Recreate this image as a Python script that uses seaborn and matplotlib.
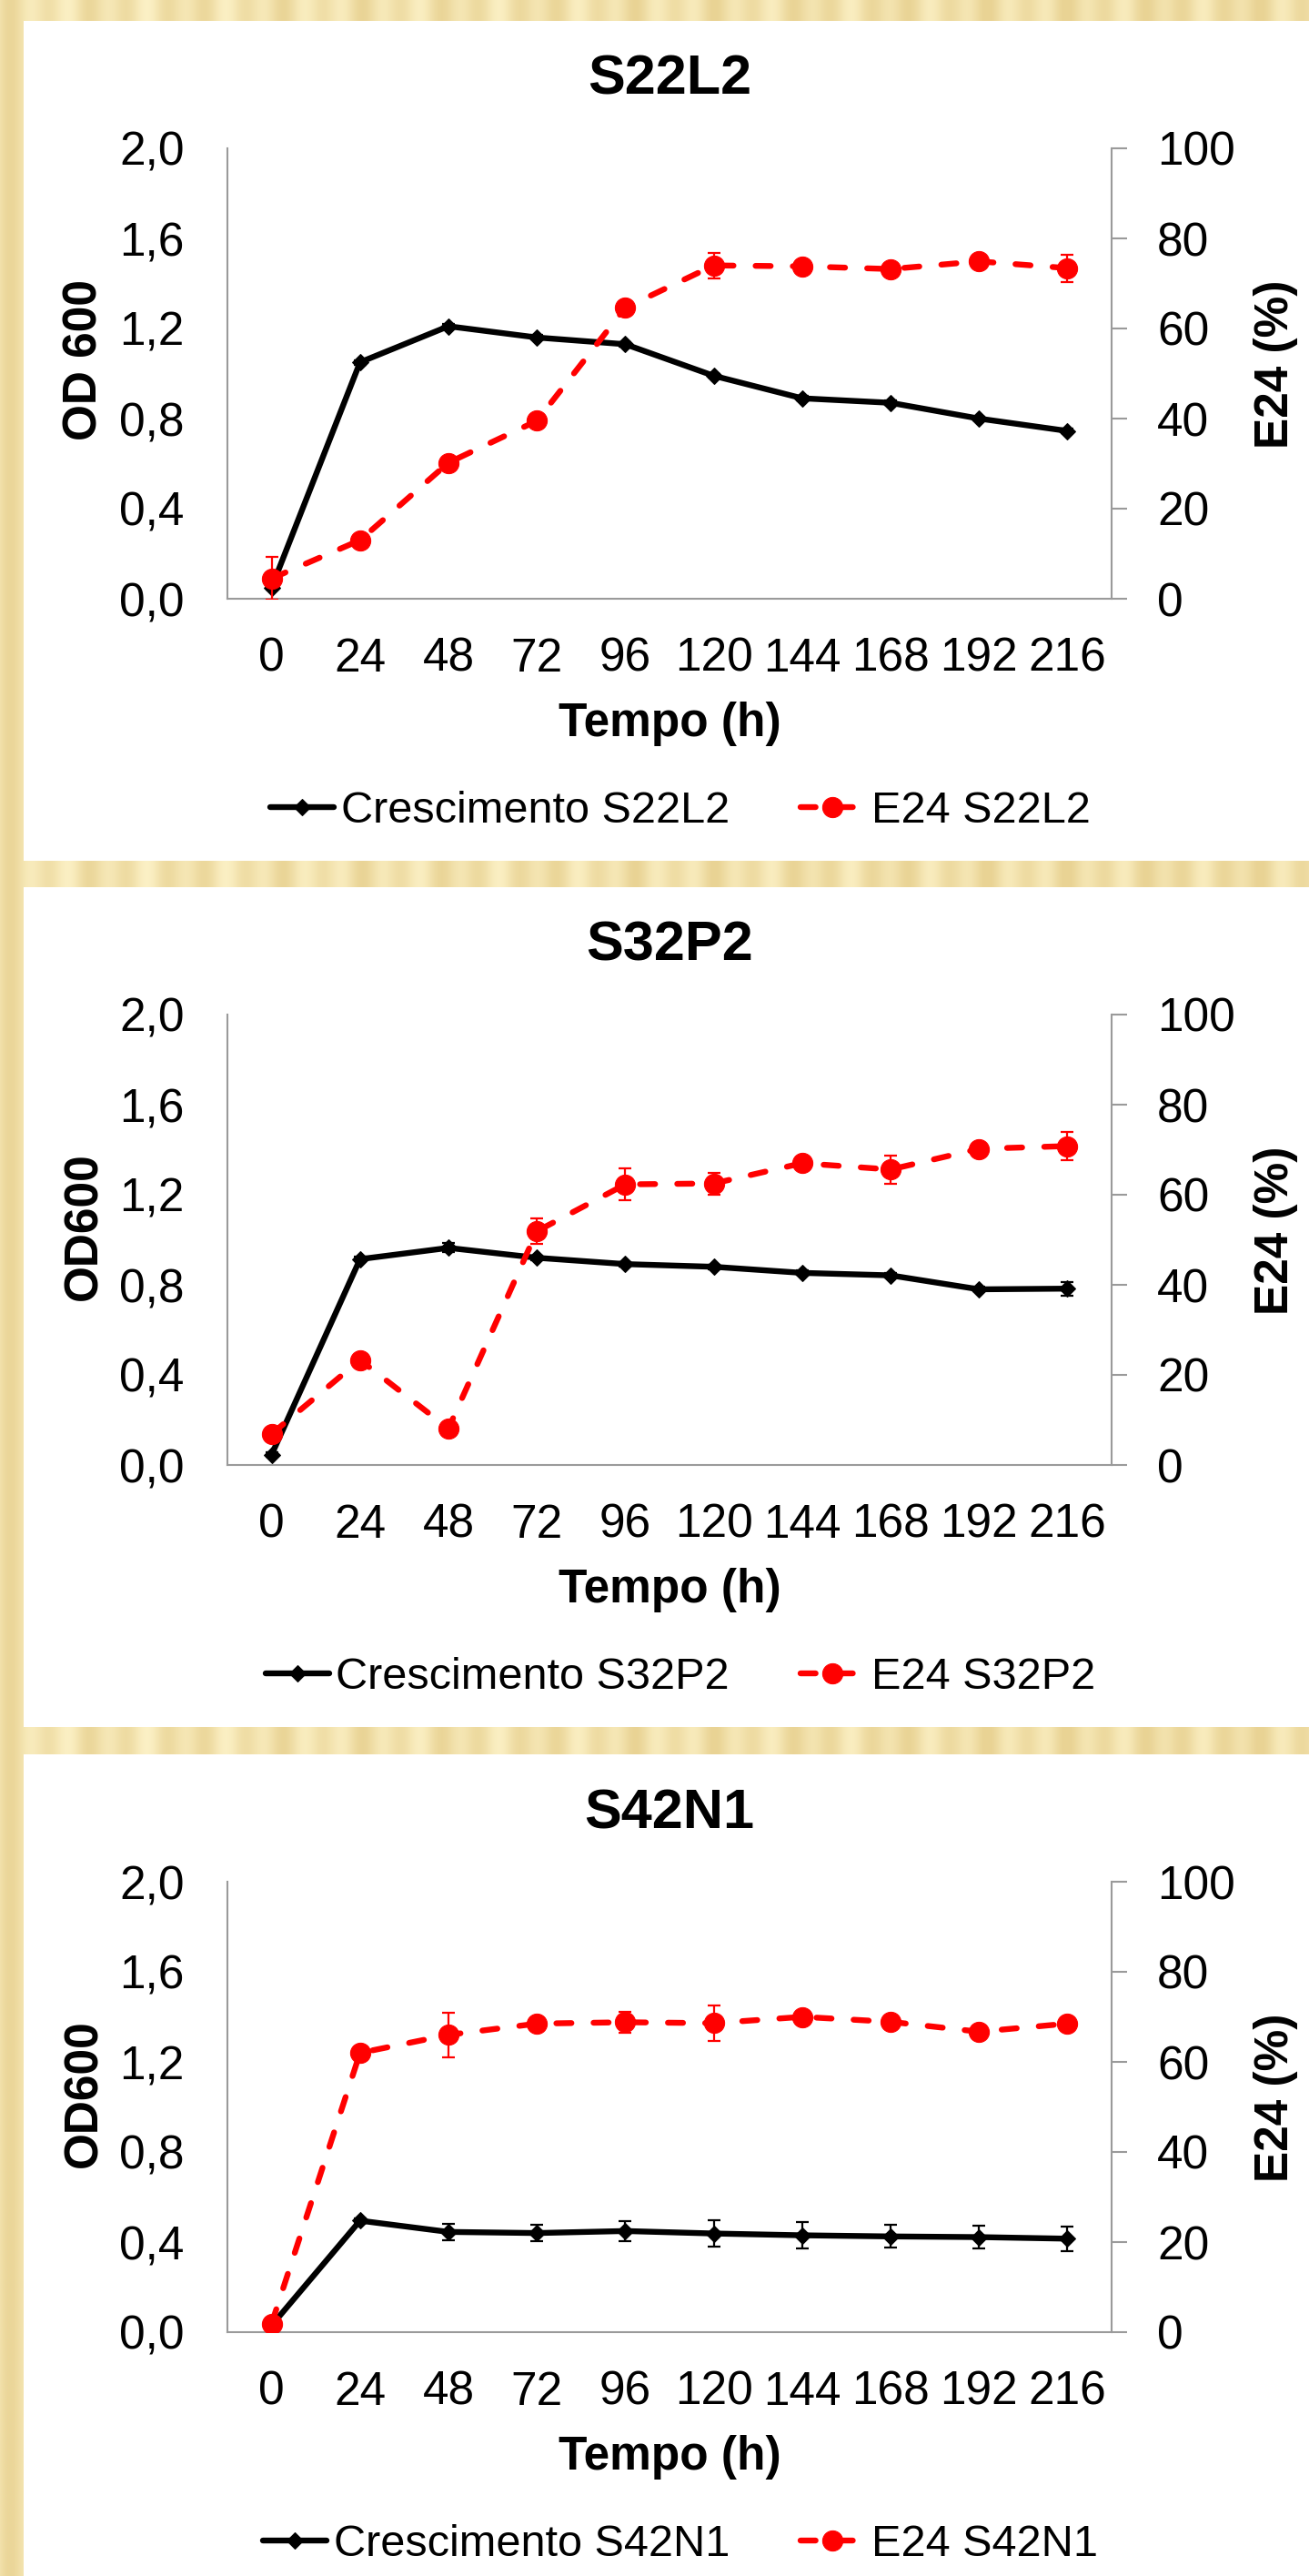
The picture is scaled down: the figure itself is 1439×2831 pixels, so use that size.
import numpy as np
import matplotlib
matplotlib.use('Agg')
import matplotlib.pyplot as plt
import seaborn as sns
from matplotlib.patches import Rectangle

# Data
TIMES = ['0', '24', '48', '72', '96', '120', '144', '168', '192', '216']
OD_TICKS = [0.0, 0.4, 0.8, 1.2, 1.6, 2.0]
OD_TICK_LABELS = ['0,0', '0,4', '0,8', '1,2', '1,6', '2,0']
E24_TICKS = [0, 20, 40, 60, 80, 100]

STRAINS = ['S22L2', 'S32P2', 'S42N1']
OD_LABELS = ['OD 600', 'OD600', 'OD600']

OD_S22L2 = [0.05, 1.05, 1.21, 1.16, 1.13, 0.99, 0.89, 0.87, 0.80, 0.745]
OD_S22L2_ERR = [0.01, 0.01, 0.01, 0.01, 0.01, 0.01, 0.01, 0.01, 0.01, 0.01]
E24_S22L2 = [4.5, 13.0, 30.2, 39.5, 64.6, 74.0, 73.8, 73.2, 74.9, 73.4]
E24_S22L2_ERR = [4.7, 1.0, 1.0, 1.0, 1.0, 2.8, 1.0, 1.0, 1.0, 3.0]

OD_S32P2 = [0.046, 0.914, 0.964, 0.92, 0.892, 0.88, 0.853, 0.842, 0.78, 0.783]
OD_S32P2_ERR = [0.01, 0.01, 0.02, 0.01, 0.01, 0.01, 0.01, 0.01, 0.01, 0.03]
E24_S32P2 = [6.9, 23.3, 8.1, 51.9, 62.3, 62.5, 67.0, 65.6, 70.2, 70.8]
E24_S32P2_ERR = [1.0, 1.0, 1.0, 2.8, 3.5, 2.4, 1.0, 3.1, 1.0, 3.2]

OD_S42N1 = [0.03, 0.495, 0.445, 0.44, 0.449, 0.438, 0.43, 0.425, 0.422, 0.415]
OD_S42N1_ERR = [0.01, 0.01, 0.035, 0.035, 0.045, 0.06, 0.06, 0.05, 0.05, 0.055]
E24_S42N1 = [1.9, 62.0, 66.0, 68.5, 68.8, 68.6, 70.0, 68.9, 66.7, 68.5]
E24_S42N1_ERR = [1.0, 1.0, 4.9, 1.0, 2.3, 3.9, 1.0, 1.0, 1.0, 1.0]

OD_SERIES = [OD_S22L2, OD_S32P2, OD_S42N1]
OD_ERRS = [OD_S22L2_ERR, OD_S32P2_ERR, OD_S42N1_ERR]
E24_SERIES = [E24_S22L2, E24_S32P2, E24_S42N1]
E24_ERRS = [E24_S22L2_ERR, E24_S32P2_ERR, E24_S42N1_ERR]

# Style
sns.set_style('white')
plt.rcParams['font.family'] = ['Liberation Sans', 'DejaVu Sans']
plt.rcParams['text.color'] = 'black'
plt.rcParams['axes.labelcolor'] = 'black'
plt.rcParams['xtick.color'] = 'black'
plt.rcParams['ytick.color'] = 'black'

W, H = 1439, 2831
GRAY = '#9a9a9a'
FS = 37
LW = 4.6

fig = plt.figure(figsize=(W / 100, H / 100), dpi=100)

# Gold striped background with white panels
bg = fig.add_axes([0, 0, 1, 1])
bg.set_xlim(0, W)
bg.set_ylim(H, 0)
bg.axis('off')
xs = np.arange(W)
t = 0.45 + 0.28 * np.sin(2 * np.pi * xs / 43) + 0.17 * np.sin(2 * np.pi * xs / 97 + 0.7) + 0.2 * xs / W
t = np.clip(t, 0, 1)
light = np.array([252, 241, 198]) / 255
dark = np.array([233, 211, 148]) / 255
row = light[None, :] * (1 - t[:, None]) + dark[None, :] * t[:, None]
bg.imshow(row[None, :, :], extent=(0, W, H, 0), aspect='auto', zorder=0)
for top, bottom in [(23, 946), (975, 1898), (1928, H)]:
    bg.add_patch(Rectangle((26, top), W - 26, bottom - top, facecolor='white', edgecolor='none', zorder=1))

OFFSETS = [0, 952, 1905]
xpos = np.arange(len(TIMES))

for i, name in enumerate(STRAINS):
    o = OFFSETS[i]
    ax = fig.add_axes([250 / W, 1 - (658 + o) / H, 972 / W, 495 / H])
    ax.set_facecolor('none')

    sns.lineplot(x=xpos, y=OD_SERIES[i], ax=ax, color='black', marker='D', markersize=9,
                 markeredgecolor='black', linewidth=LW, legend=False, zorder=3)
    line_od = ax.lines[-1]
    ax.errorbar(xpos, OD_SERIES[i], yerr=OD_ERRS[i], fmt='none', ecolor='black',
                elinewidth=1.6, capsize=4.7, capthick=1.6, zorder=2)

    ax.set_xlim(-0.5, len(TIMES) - 0.5)
    ax.set_ylim(0, 2)
    ax.set_yticks(OD_TICKS)
    ax.set_yticklabels(OD_TICK_LABELS)
    ax.set_xticks(xpos)
    ax.set_xticklabels(TIMES)
    ax.tick_params(axis='both', length=0, labelsize=FS)
    ax.tick_params(axis='y', pad=34)
    ax.tick_params(axis='x', pad=30)
    for s in ['top', 'right']:
        ax.spines[s].set_visible(False)
    for s in ['left', 'bottom']:
        ax.spines[s].set_color(GRAY)
        ax.spines[s].set_linewidth(1.5)

    ax.set_ylabel(OD_LABELS[i], fontsize=FS, fontweight='bold')
    ax.yaxis.set_label_coords(-0.162, 0.53)
    ax.yaxis.label.set_va('center')
    ax.set_xlabel('Tempo (h)', fontsize=FS, fontweight='bold')
    ax.xaxis.set_label_coords(0.5, -0.305)
    ax.xaxis.label.set_va('baseline')
    ax.text(0.5, (658 - 104) / 495, name, transform=ax.transAxes, ha='center',
            va='baseline', fontsize=44, fontweight='bold')

    ax2 = ax.twinx()
    sns.lineplot(x=xpos, y=E24_SERIES[i], ax=ax2, color='red', marker='o', markersize=16,
                 markeredgecolor='red', linewidth=LW, legend=False, zorder=3)
    line_e = ax2.lines[-1]
    line_e.set_linestyle((0, (2.6, 3.8)))
    line_e.set_dash_capstyle('round')
    ax2.errorbar(xpos, E24_SERIES[i], yerr=E24_ERRS[i], fmt='none', ecolor='red',
                 elinewidth=1.6, capsize=4.7, capthick=1.6, zorder=2)
    ax2.set_ylim(0, 100)
    ax2.set_yticks(E24_TICKS)
    ax2.tick_params(axis='y', length=12, width=1.5, color=GRAY, labelsize=FS, pad=24, direction='out')
    for s in ['top', 'left', 'bottom']:
        ax2.spines[s].set_visible(False)
    ax2.spines['right'].set_color(GRAY)
    ax2.spines['right'].set_linewidth(1.5)
    ax2.set_ylabel('E24 (%)', fontsize=FS, fontweight='bold')
    ax2.yaxis.set_label_coords(1.186, 0.52)
    ax2.yaxis.label.set_va('center')

    ax2.legend([line_od, line_e], ['Crescimento ' + name, 'E24 ' + name], loc='center',
               bbox_to_anchor=(0.512, -0.471), ncol=2, frameon=False, fontsize=35,
               handlelength=1.45, handletextpad=0.15, columnspacing=1.6)

fig.savefig('out.png', dpi=100)
